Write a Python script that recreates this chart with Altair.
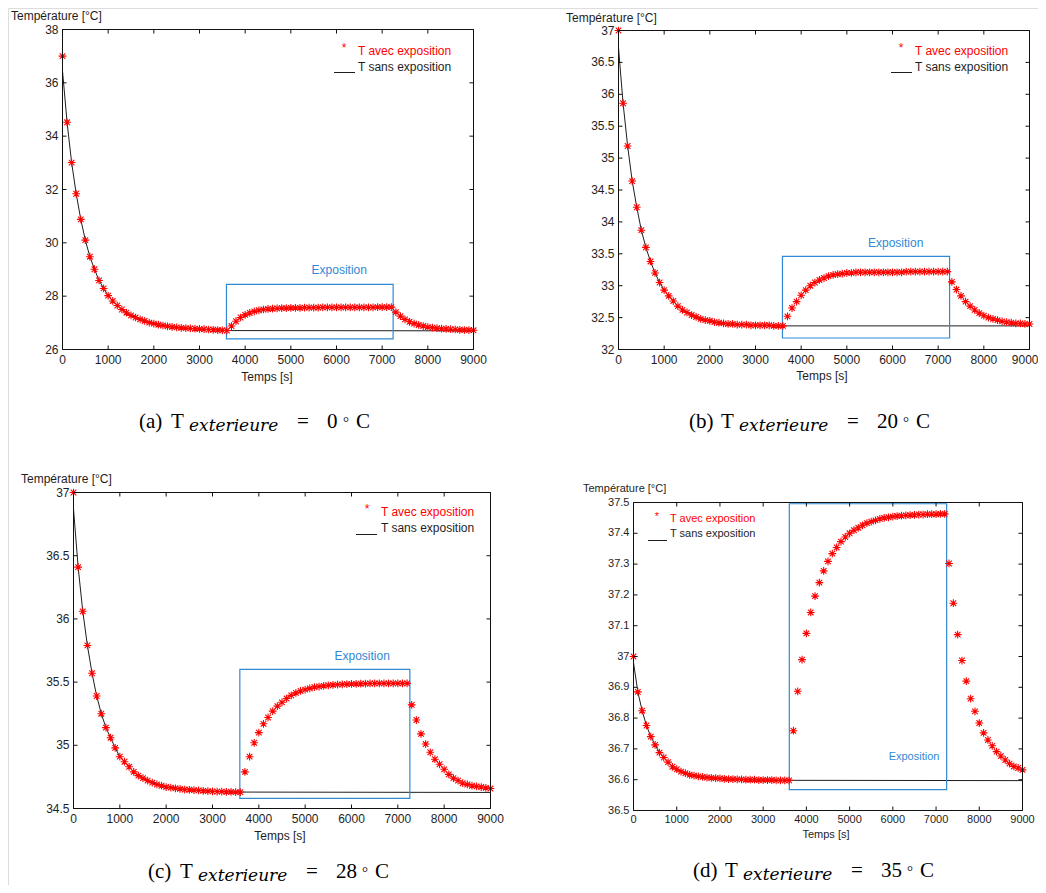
import altair as alt
import pandas as pd

# ---------------- data ----------------
TIME = list(range(0, 9001, 100))

TEMP_A = [37.00, 34.52, 33.01, 31.84, 30.88, 30.10, 29.48, 29.01, 28.59, 28.29,
          28.02, 27.82, 27.65, 27.50, 27.38, 27.28, 27.20, 27.13, 27.07, 27.01,
          26.97, 26.93, 26.90, 26.87, 26.85, 26.83, 26.81, 26.80, 26.79, 26.78,
          26.77, 26.76, 26.75, 26.74, 26.73, 26.72, 26.71,
          26.88, 27.06, 27.20, 27.30, 27.37, 27.43, 27.47, 27.50, 27.52, 27.53,
          27.54, 27.55, 27.55, 27.56, 27.56, 27.56, 27.57, 27.57, 27.57, 27.57,
          27.58, 27.58, 27.58, 27.58, 27.58, 27.58, 27.58, 27.58, 27.58, 27.58,
          27.58, 27.58, 27.59, 27.59, 27.59, 27.59,
          27.40, 27.25, 27.13, 27.04, 26.97, 26.92, 26.88, 26.84, 26.82, 26.80,
          26.78, 26.77, 26.76, 26.75, 26.74, 26.73, 26.73, 26.72]

TEMP_B = [37.00, 35.86, 35.19, 34.64, 34.23, 33.87, 33.60, 33.38, 33.20, 33.05,
          32.93, 32.84, 32.76, 32.68, 32.62, 32.58, 32.54, 32.51, 32.48, 32.46,
          32.45, 32.43, 32.42, 32.41, 32.40, 32.40, 32.39, 32.39, 32.39, 32.38,
          32.38, 32.38, 32.38, 32.38, 32.37, 32.37, 32.37,
          32.52, 32.65, 32.75, 32.85, 32.93, 33.00, 33.05, 33.09, 33.12, 33.15,
          33.17, 33.18, 33.19, 33.20, 33.20, 33.21, 33.21, 33.21, 33.21, 33.21,
          33.21, 33.21, 33.21, 33.21, 33.21, 33.21, 33.22, 33.22, 33.22, 33.22,
          33.22, 33.22, 33.22, 33.22, 33.22, 33.22,
          33.06, 32.94, 32.84, 32.75, 32.68, 32.62, 32.57, 32.53, 32.50, 32.48,
          32.46, 32.44, 32.43, 32.42, 32.41, 32.41, 32.40, 32.40]

TEMP_C = [37.00, 36.41, 36.06, 35.79, 35.57, 35.39, 35.25, 35.14, 35.06, 34.98,
          34.91, 34.87, 34.83, 34.79, 34.76, 34.74, 34.72, 34.705, 34.69, 34.68,
          34.67, 34.665, 34.66, 34.655, 34.65, 34.648, 34.645, 34.643, 34.64, 34.638,
          34.636, 34.634, 34.633, 34.632, 34.631, 34.63, 34.63,
          34.79, 34.91, 35.02, 35.10, 35.17, 35.22, 35.27, 35.31, 35.34, 35.37,
          35.395, 35.415, 35.43, 35.44, 35.45, 35.46, 35.465, 35.47, 35.475, 35.478,
          35.48, 35.482, 35.484, 35.485, 35.486, 35.487, 35.488, 35.489, 35.49, 35.49,
          35.49, 35.49, 35.49, 35.49, 35.49, 35.49,
          35.32, 35.20, 35.09, 35.01, 34.945, 34.89, 34.85, 34.81, 34.77, 34.74,
          34.72, 34.70, 34.69, 34.68, 34.675, 34.67, 34.663, 34.658]

TEMP_D = [37.000, 36.885, 36.824, 36.776, 36.740, 36.713, 36.688, 36.672, 36.657, 36.642,
          36.634, 36.626, 36.621, 36.616, 36.613, 36.611, 36.609, 36.607, 36.606, 36.605,
          36.604, 36.603, 36.602, 36.602, 36.601, 36.601, 36.600, 36.600, 36.600, 36.599,
          36.599, 36.599, 36.599, 36.598, 36.598, 36.598, 36.598,
          36.759, 36.887, 36.990, 37.075, 37.143, 37.196, 37.240, 37.278, 37.309, 37.334,
          37.354, 37.373, 37.388, 37.400, 37.410, 37.418, 37.426, 37.433, 37.438, 37.442,
          37.447, 37.450, 37.452, 37.454, 37.456, 37.457, 37.458, 37.459, 37.460, 37.461,
          37.461, 37.462, 37.462, 37.462, 37.463, 37.463,
          37.302, 37.173, 37.071, 36.987, 36.920, 36.863, 36.822, 36.784, 36.752, 36.729,
          36.710, 36.691, 36.677, 36.664, 36.652, 36.643, 36.638, 36.632]

# "T sans exposition": same cooling until 3600 s, then flat
LINE_TIME = list(range(0, 3601, 100)) + [9000]
LINE_A = [36.45] + TEMP_A[1:37] + [26.70]
LINE_B = [36.73] + TEMP_B[1:37] + [32.37]
LINE_C = [36.87] + TEMP_C[1:37] + [34.627]
LINE_D = [36.98] + TEMP_D[1:37] + [36.597]

X_TICKS = [0, 1000, 2000, 3000, 4000, 5000, 6000, 7000, 8000, 9000]
X_LABELS = ["0", "1000", "2000", "3000", "4000", "5000", "6000", "7000", "8000", "9000"]

Y_TICKS_A = [26, 28, 30, 32, 34, 36, 38]
Y_LABELS_A = ["26", "28", "30", "32", "34", "36", "38"]
Y_TICKS_B = [32, 32.5, 33, 33.5, 34, 34.5, 35, 35.5, 36, 36.5, 37]
Y_LABELS_B = ["32", "32.5", "33", "33.5", "34", "34.5", "35", "35.5", "36", "36.5", "37"]
Y_TICKS_C = [34.5, 35, 35.5, 36, 36.5, 37]
Y_LABELS_C = ["34.5", "35", "35.5", "36", "36.5", "37"]
Y_TICKS_D = [36.5, 36.6, 36.7, 36.8, 36.9, 37.0, 37.1, 37.2, 37.3, 37.4, 37.5]
Y_LABELS_D = ["36.5", "36.6", "36.7", "36.8", "36.9", "37", "37.1", "37.2", "37.3", "37.4", "37.5"]

# exposure box: t start, t end, T low, T high ; label position (t, T)
EXPO_A = [3590, 7240, 26.40, 28.44]
EXPO_LAB_A = [6060, 28.97]
EXPO_B = [3590, 7250, 32.18, 33.46]
EXPO_LAB_B = [6070, 33.67]
EXPO_C = [3590, 7260, 34.58, 35.60]
EXPO_LAB_C = [6230, 35.71]
EXPO_D = [3605, 7245, 36.568, 37.496]
EXPO_LAB_D = [6490, 36.673]

CAPTION_LETTERS = ["a", "b", "c", "d"]
CAPTION_TEMPS = ["0", "20", "28", "35"]

# ---------------- style ----------------
SANS = "Liberation Sans"
SERIF = "Liberation Serif"
SUBFONT = "DejaVu Serif"
RED = "#ff0000"
BLUE = "#3189d4"
INK = "#1e1e1e"
ASTERISK = "M-1,0L1,0M0,-1L0,1M-0.72,-0.72L0.72,0.72M-0.72,0.72L0.72,-0.72"
ONE = pd.DataFrame({"k": [0]})

PANELS = [
    dict(temps=TEMP_A, line=LINE_A, ymin=26, ymax=38, yt=Y_TICKS_A, yl=Y_LABELS_A,
         expo=EXPO_A, expo_lab=EXPO_LAB_A, geom=(54, 465, 21, 341), fs=12,
         leg=dict(star=(336, 40), tx=350, r1=42.5, r2=58.5, lx=(326, 347), ly=64),
         cap=(131, 420), ytitle=(3, 8), xtitle=(259, 368.5), xlab_dy=10, flush=False),
    dict(temps=TEMP_B, line=LINE_B, ymin=32, ymax=37, yt=Y_TICKS_B, yl=Y_LABELS_B,
         expo=EXPO_B, expo_lab=EXPO_LAB_B, geom=(610, 1021, 22, 341), fs=12,
         leg=dict(star=(893, 40), tx=907, r1=43, r2=59, lx=(883, 904), ly=64),
         cap=(681, 420), ytitle=(558, 10), xtitle=(814, 368), xlab_dy=10, flush=True),
    dict(temps=TEMP_C, line=LINE_C, ymin=34.5, ymax=37, yt=Y_TICKS_C, yl=Y_LABELS_C,
         expo=EXPO_C, expo_lab=EXPO_LAB_C, geom=(65, 482, 484, 800), fs=12,
         leg=dict(star=(359, 501), tx=373, r1=503.5, r2=519.5, lx=(348, 369), ly=526),
         cap=(140, 870), ytitle=(13, 471), xtitle=(272, 827.5), xlab_dy=10, flush=False),
    dict(temps=TEMP_D, line=LINE_D, ymin=36.5, ymax=37.5, yt=Y_TICKS_D, yl=Y_LABELS_D,
         expo=EXPO_D, expo_lab=EXPO_LAB_D, geom=(625, 1014, 494, 802), fs=11,
         leg=dict(star=(649, 508.5), tx=662, r1=511, r2=526, lx=(640, 659), ly=532),
         cap=(685, 869), ytitle=(575, 481), xtitle=(818, 827), xlab_dy=9, flush=False),
]


def txt(s, x, y, **kw):
    return alt.Chart(ONE).mark_text(text=s, **kw).encode(x=alt.value(x), y=alt.value(y))


def build_panel(p, letter, tnum):
    L, R, T, B = p["geom"]
    fs = p["fs"]
    ymin, ymax = p["ymin"], p["ymax"]
    xs = alt.Scale(domain=[0, 9000], range=[L + 0.5, R + 0.5], nice=False, zero=False)
    ys = alt.Scale(domain=[ymin, ymax], range=[B + 0.5, T + 0.5], nice=False, zero=False)

    def X(f):
        return alt.X(f, scale=xs, axis=None)

    def Y(f):
        return alt.Y(f, scale=ys, axis=None)

    layers = []

    # black reference line
    ln = pd.DataFrame({"t": LINE_TIME, "v": p["line"]})
    layers.append(alt.Chart(ln).mark_line(color=INK, strokeWidth=1).encode(x=X("t:Q"), y=Y("v:Q")))

    # exposure box and its label
    e = p["expo"]
    rdf = pd.DataFrame({"x1": [e[0]], "x2": [e[1]], "y1": [e[2]], "y2": [e[3]]})
    layers.append(alt.Chart(rdf).mark_rect(fillOpacity=0, stroke=BLUE, strokeWidth=1.2)
                  .encode(x=X("x1:Q"), x2="x2:Q", y=Y("y1:Q"), y2="y2:Q"))
    ldf = pd.DataFrame({"t": [p["expo_lab"][0]], "v": [p["expo_lab"][1]]})
    layers.append(alt.Chart(ldf).mark_text(text="Exposition", color=BLUE, fontSize=fs, font=SANS,
                                           align="center", baseline="middle")
                  .encode(x=X("t:Q"), y=Y("v:Q")))

    # red asterisks
    pts = pd.DataFrame({"t": TIME, "v": p["temps"]})
    layers.append(alt.Chart(pts).mark_point(shape=ASTERISK, filled=False, color=RED, size=60,
                                            strokeWidth=1.1, opacity=1)
                  .encode(x=X("t:Q"), y=Y("v:Q")))

    # frame + inward ticks on all four sides
    dx = 9000 * 4.0 / (R - L)
    dy = (ymax - ymin) * 4.0 / (B - T)
    rows = [
        (0, 9000, ymin, ymin), (0, 9000, ymax, ymax),
        (0, 0, ymin, ymax), (9000, 9000, ymin, ymax),
    ]
    for v in X_TICKS:
        rows.append((v, v, ymin, ymin + dy))
        rows.append((v, v, ymax, ymax - dy))
    for v in p["yt"]:
        rows.append((0, dx, v, v))
        rows.append((9000, 9000 - dx, v, v))
    fdf = pd.DataFrame(rows, columns=["x1", "x2", "y1", "y2"])
    layers.append(alt.Chart(fdf).mark_rule(color="#111111", strokeWidth=1)
                  .encode(x=X("x1:Q"), x2="x2:Q", y=Y("y1:Q"), y2="y2:Q"))

    # tick labels (last x label kept inside the page for the right-hand panel)
    n_center = len(X_TICKS) - 1 if p["flush"] else len(X_TICKS)
    xl = pd.DataFrame({"t": X_TICKS[:n_center], "lab": X_LABELS[:n_center]})
    xl["v"] = ymin
    layers.append(alt.Chart(xl).mark_text(fontSize=fs, font=SANS, color=INK, align="center",
                                          baseline="middle", dy=p["xlab_dy"])
                  .encode(x=X("t:Q"), y=Y("v:Q"), text="lab:N"))
    if p["flush"]:
        xr = pd.DataFrame({"t": X_TICKS[n_center:], "lab": X_LABELS[n_center:]})
        xr["v"] = ymin
        layers.append(alt.Chart(xr).mark_text(fontSize=fs, font=SANS, color=INK, align="right",
                                              baseline="middle", dy=p["xlab_dy"], dx=9)
                      .encode(x=X("t:Q"), y=Y("v:Q"), text="lab:N"))
    yl = pd.DataFrame({"v": p["yt"], "lab": p["yl"]})
    yl["t"] = 0
    layers.append(alt.Chart(yl).mark_text(fontSize=fs, font=SANS, color=INK, align="right",
                                          baseline="middle", dx=-4)
                  .encode(x=X("t:Q"), y=Y("v:Q"), text="lab:N"))

    # axis titles
    layers.append(txt("Température [°C]", p["ytitle"][0], p["ytitle"][1], fontSize=fs, font=SANS,
                      color=INK, align="left", baseline="middle"))
    layers.append(txt("Temps [s]", p["xtitle"][0], p["xtitle"][1], fontSize=fs, font=SANS,
                      color=INK, align="center", baseline="middle"))

    # legend
    lg = p["leg"]
    layers.append(txt("*", lg["star"][0], lg["star"][1], fontSize=fs, font=SANS, color=RED,
                      align="center", baseline="middle"))
    layers.append(txt("T avec exposition", lg["tx"], lg["r1"], fontSize=fs, font=SANS, color=RED,
                      align="left", baseline="middle"))
    layers.append(txt("T sans exposition", lg["tx"], lg["r2"], fontSize=fs, font=SANS, color=INK,
                      align="left", baseline="middle"))
    layers.append(alt.Chart(ONE).mark_rule(color=INK, strokeWidth=1)
                  .encode(x=alt.value(lg["lx"][0]), x2=alt.value(lg["lx"][1]), y=alt.value(lg["ly"] + 0.5)))

    # caption  (x) T_exterieure = N ° C
    x0, yb = p["cap"]
    nw = 10 * len(tnum)
    layers.append(txt("(" + letter + ")", x0, yb, fontSize=21, font=SERIF, color="#000000",
                      align="left", baseline="alphabetic"))
    layers.append(txt("T", x0 + 32, yb, fontSize=21, font=SERIF, color="#000000",
                      align="left", baseline="alphabetic"))
    layers.append(txt("exterieure", x0 + 50, yb + 3, fontSize=17, font=SUBFONT, fontStyle="italic",
                      color="#000000", align="left", baseline="alphabetic"))
    layers.append(txt("=", x0 + 158, yb, fontSize=21, font=SERIF, color="#000000",
                      align="left", baseline="alphabetic"))
    layers.append(txt(tnum, x0 + 188, yb, fontSize=21, font=SERIF, color="#000000",
                      align="left", baseline="alphabetic"))
    layers.append(txt("°", x0 + 189 + nw + 5, yb - 1, fontSize=15, font=SERIF, color="#000000",
                      align="left", baseline="alphabetic"))
    layers.append(txt("C", x0 + 189 + nw + 18, yb, fontSize=21, font=SERIF, color="#000000",
                      align="left", baseline="alphabetic"))

    return alt.layer(*layers)


panels = [build_panel(p, l, n) for p, l, n in zip(PANELS, CAPTION_LETTERS, CAPTION_TEMPS)]

chart = (
    alt.layer(*panels)
    .resolve_scale(x="independent", y="independent")
    .properties(width=1030, height=877, autosize=alt.AutoSizeParams(type="none"), padding=0)
    .configure_view(strokeWidth=0)
    .configure(background="white")
)

chart.save("out.html", embed_options={"renderer": "svg", "actions": False})
